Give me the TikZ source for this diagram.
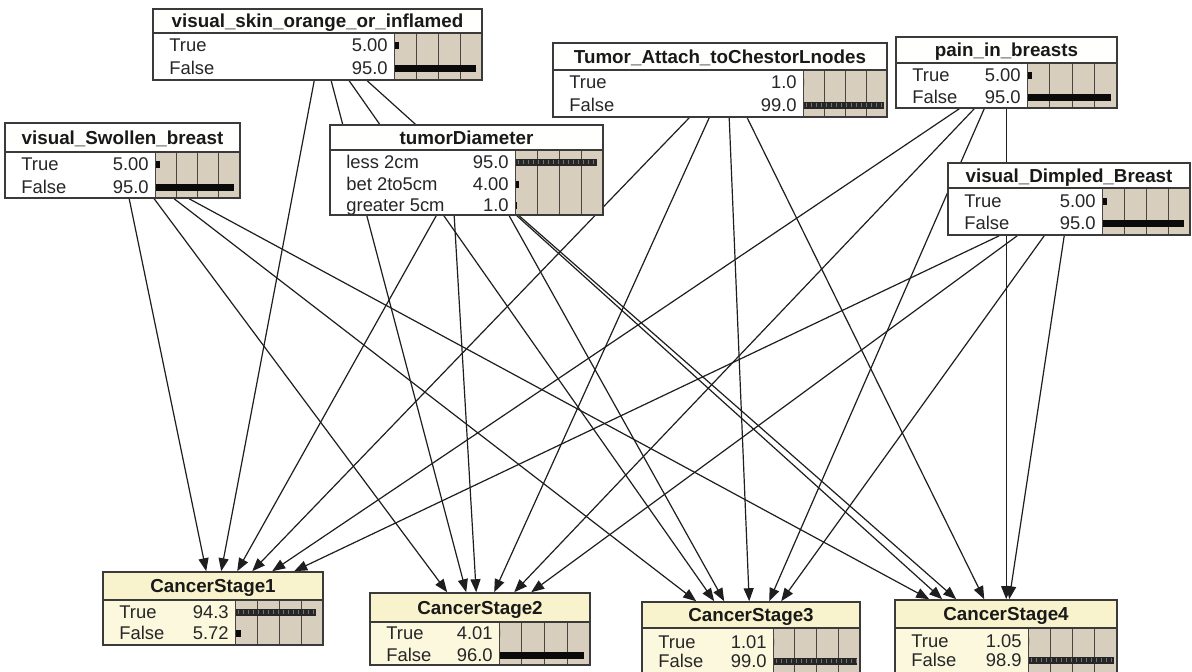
\documentclass[tikz,border=0pt]{standalone}
\usepackage{fontspec}
\setmainfont{Liberation Sans}
\usetikzlibrary{calc,arrows.meta,fit}
\pgfdeclarelayer{canvas}
\pgfdeclarelayer{links}
\pgfsetlayers{canvas,links,main}

\definecolor{edgecol}{HTML}{1E1E1E}
\definecolor{framecol}{HTML}{3A3A3A}
\definecolor{parenthead}{HTML}{FFFFFD}
\definecolor{parentbody}{HTML}{FFFFFF}
\definecolor{childhead}{HTML}{F8F3CC}
\definecolor{childbody}{HTML}{FBF8DE}
\definecolor{meterbg}{HTML}{D8CEBE}
\definecolor{gridcol}{HTML}{4A4540}
\definecolor{barcol}{HTML}{0A0A0A}

\tikzset{
  titletext/.style={font=\bfseries\fontsize{9.4}{10}\selectfont, inner sep=0pt, text height=6.8pt, text depth=0pt, text=black!90},
  rowtext/.style={font=\fontsize{9.2}{10}\selectfont, inner sep=0pt, text height=6.6pt, text depth=0pt, text=black!85},
  link/.style={draw=edgecol, line width=0.6pt, -{Triangle[length=6.5pt,width=5pt]}},
}

% #1 name, #2 left, #3 top, #4 right, #5 title rule, #6 bottom, #7 meter left, #8 title, #9 colour prefix
\newcommand\netbox[9]{%
  \fill[#9head] (#2,#3) rectangle (#4,#5);
  \fill[#9body] (#2,#5) rectangle (#7,#6);
  \fill[meterbg] (#7,#5) rectangle (#4,#6);
  \foreach \k in {1,2,3}
    \draw[gridcol, line width=0.4pt] ({#7+\k*(#4-#7)/4},#5) -- ({#7+\k*(#4-#7)/4},#6);
  \draw[gridcol, line width=0.5pt] (#7,#5) -- (#7,#6);
  \draw[framecol, line width=0.8pt] (#2,#5) -- (#4,#5);
  \node[fit={(#2,#3)(#4,#6)}, inner sep=0pt, draw=framecol, line width=0.8pt] (#1) {};
  \node[titletext] at ({(#2+#4)/2},{(#3+#5)/2}) {#8};
}

% #1 left, #2 meter left, #3 right, #4 row centre, #5 label, #6 value, #7 belief
\newcommand\netrow[7]{%
  \node[rowtext, anchor=west] at (#1+16,#4) {#5};
  \node[rowtext, anchor=east] at (#2-6,#4) {#6};
  \fill[barcol] (#2+1,#4-3.5) rectangle ({#2+1+#7*(#3-#2-3)},#4+3.5);
}
% same row, with the banded bar
\newcommand\netrowb[7]{%
  \node[rowtext, anchor=west] at (#1+16,#4) {#5};
  \node[rowtext, anchor=east] at (#2-6,#4) {#6};
  \fill[black!85] (#2+1,#4-3.5) rectangle ({#2+1+#7*(#3-#2-3)},#4+3.5);
  \draw[black!55, line width=2.2pt, dash pattern=on 0.4pt off 2.1pt]
    (#2+3,#4) -- ({#2+#7*(#3-#2-3)},#4);
}

\begin{document}
\begin{tikzpicture}[x=0.5pt, y=-0.5pt]
\useasboundingbox (0,0) rectangle (1192,671);
\clip (0,0) rectangle (1192,671);
\begin{pgfonlayer}{canvas}
\fill[white] (0,0) rectangle (1192,671);
\end{pgfonlayer}

% parent variables
\netbox{S}{153}{9}{482}{33}{80}{394}{visual\_skin\_orange\_or\_inflamed}{parent}
\netrow{153}{394}{482}{45}{True}{5.00}{0.05}
\netrow{153}{394}{482}{68}{False}{95.0}{0.95}

\netbox{W}{5}{123}{240}{152}{198}{155}{visual\_Swollen\_breast}{parent}
\netrow{5}{155}{240}{164}{True}{5.00}{0.05}
\netrow{5}{155}{240}{187}{False}{95.0}{0.95}

\netbox{T}{330}{125}{603}{150}{215}{515}{tumorDiameter}{parent}
\netrowb{330}{515}{603}{162}{less 2cm}{95.0}{0.95}
\netrow{330}{515}{603}{184}{bet 2to5cm}{4.00}{0.04}
\netrow{330}{515}{603}{205}{greater 5cm}{1.0}{0.01}

\netbox{A}{553}{43}{887}{70}{117}{803}{Tumor\_Attach\_toChestorLnodes}{parent}
\netrow{553}{803}{887}{82}{True}{1.0}{0.0}
\netrowb{553}{803}{887}{105}{False}{99.0}{0.99}

\netbox{P}{896}{37}{1117}{63}{108}{1027}{pain\_in\_breasts}{parent}
\netrow{896}{1027}{1117}{75}{True}{5.00}{0.05}
\netrow{896}{1027}{1117}{97}{False}{95.0}{0.95}

\netbox{D}{948}{163}{1190}{188}{235}{1102}{visual\_Dimpled\_Breast}{parent}
\netrow{948}{1102}{1190}{201}{True}{5.00}{0.05}
\netrow{948}{1102}{1190}{223}{False}{95.0}{0.95}

% stage variables
\netbox{C1}{103}{572}{323}{600}{645}{235}{CancerStage1}{child}
\netrowb{103}{235}{323}{612}{True}{94.3}{0.943}
\netrow{103}{235}{323}{633}{False}{5.72}{0.0572}

\netbox{C2}{370}{593}{590}{622}{665}{499}{CancerStage2}{child}
\netrow{370}{499}{590}{633}{True}{4.01}{0.0}
\netrow{370}{499}{590}{655}{False}{96.0}{0.96}

\netbox{C3}{642}{602}{860}{628}{690}{773}{CancerStage3}{child}
\netrow{642}{773}{860}{642}{True}{1.01}{0.0}
\netrowb{642}{773}{860}{661}{False}{99.0}{0.99}

\netbox{C4}{895}{600}{1117}{628}{690}{1028}{CancerStage4}{child}
\netrow{895}{1028}{1117}{641}{True}{1.05}{0.0}
\netrowb{895}{1028}{1117}{660}{False}{98.9}{0.989}

% dependency links
\begin{pgfonlayer}{links}
\draw[link] ($(W.south west)+(125,0)$) -- ($(C1.north west)+(104,0)$);
\draw[link] ($(W.south west)+(150,0)$) -- ($(C2.north west)+(78,0)$);
\draw[link] ($(W.south west)+(170,0)$) -- ($(C3.north west)+(55,0)$);
\draw[link] ($(W.south west)+(185,0)$) -- ($(C4.north west)+(35,0)$);

\draw[link] ($(S.south west)+(162,0)$) -- ($(C1.north west)+(119,0)$);
\draw[link] ($(S.south west)+(179,0)$) -- ($(C2.north west)+(97,0)$);
\draw[link] ($(S.south west)+(197,0)$) -- ($(C3.north west)+(73,0)$);
\draw[link] ($(S.south west)+(215,0)$) -- ($(C4.north west)+(48,0)$);

\draw[link] ($(T.south west)+(107,0)$) -- ($(C1.north west)+(135,0)$);
\draw[link] ($(T.south west)+(125,0)$) -- ($(C2.north west)+(107,0)$);
\draw[link] ($(T.south west)+(180,0)$) -- ($(C3.north west)+(83,0)$);
\draw[link] ($(T.south west)+(190,0)$) -- ($(C4.north west)+(62,0)$);

\draw[link] ($(A.south west)+(137,0)$) -- ($(C1.north west)+(150,0)$);
\draw[link] ($(A.south west)+(157,0)$) -- ($(C2.north west)+(125,0)$);
\draw[link] ($(A.south west)+(177,0)$) -- ($(C3.north west)+(108,0)$);
\draw[link] ($(A.south west)+(195,0)$) -- ($(C4.north west)+(90,0)$);

\draw[link] ($(P.south west)+(64,0)$) -- ($(C1.north west)+(170,0)$);
\draw[link] ($(P.south west)+(79,0)$) -- ($(C2.north west)+(145,0)$);
\draw[link] ($(P.south west)+(89,0)$) -- ($(C3.north west)+(128,0)$);
\draw[link] ($(P.south west)+(111,0)$) -- ($(C4.north west)+(112,0)$);

\draw[link] ($(D.south west)+(52,0)$) -- ($(C1.north west)+(192,0)$);
\draw[link] ($(D.south west)+(70,0)$) -- ($(C2.north west)+(162,0)$);
\draw[link] ($(D.south west)+(97,0)$) -- ($(C3.north west)+(140,0)$);
\draw[link] ($(D.south west)+(117,0)$) -- ($(C4.north west)+(115,0)$);
\end{pgfonlayer}
\end{tikzpicture}
\end{document}
